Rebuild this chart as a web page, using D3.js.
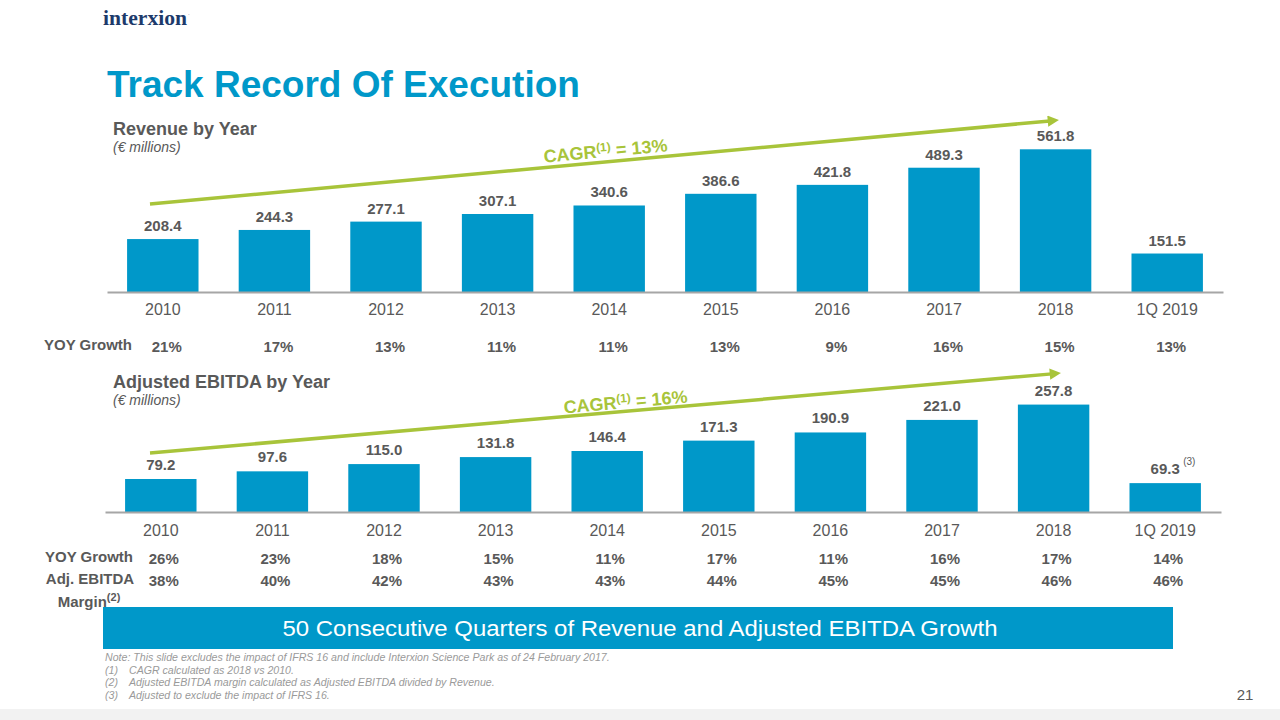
<!DOCTYPE html>
<html><head><meta charset="utf-8">
<script src="https://cdn.jsdelivr.net/npm/d3@7"></script>
<style>
body{margin:0;background:#fff;}
svg{display:block;font-family:"Liberation Sans",Arial,sans-serif;}
</style></head>
<body>
<script>
const categories = ["2010","2011","2012","2013","2014","2015","2016","2017","2018","1Q 2019"];
const revenue = [208.4,244.3,277.1,307.1,340.6,386.6,421.8,489.3,561.8,151.5];
const revenueGrowth = ["21%","17%","13%","11%","11%","13%","9%","16%","15%","13%"];
const ebitda = [79.2,97.6,115.0,131.8,146.4,171.3,190.9,221.0,257.8,69.3];
const ebitdaGrowth = ["26%","23%","18%","15%","11%","17%","11%","16%","17%","14%"];
const ebitdaMargin = ["38%","40%","42%","43%","43%","44%","45%","45%","46%","46%"];
const footnotes = [
  "Note: This slide excludes the impact of IFRS 16 and include Interxion Science Park as of 24 February 2017.",
  "CAGR calculated as 2018 vs 2010.",
  "Adjusted EBITDA margin calculated as Adjusted EBITDA divided by Revenue.",
  "Adjusted to exclude the impact of IFRS 16."
];

const W=1280,H=720;
const BLUE="#0098C9", GREY="#595959", GREEN="#A8C43A", AXIS="#A6A6A6";
const svg=d3.select("body").append("svg").attr("width",W).attr("height",H);

// bottom strip
svg.append("rect").attr("x",0).attr("y",709).attr("width",W).attr("height",11).attr("fill","#F2F2F2");

// logo
svg.append("text").attr("x",103).attr("y",25).attr("font-family","'Liberation Serif','DejaVu Serif',serif")
  .attr("font-weight","bold").attr("font-size",22).attr("fill","#1D3A6B")
  .attr("textLength",84).attr("lengthAdjust","spacingAndGlyphs").text("interxion");
svg.append("text").attr("x",188).attr("y",16).attr("font-size",5).attr("fill","#1D3A6B").text("·");

// title
svg.append("text").attr("x",107).attr("y",97).attr("font-weight","bold").attr("font-size",37)
  .attr("fill",BLUE).text("Track Record Of Execution");

function sectionTitle(y,t){
  svg.append("text").attr("x",113).attr("y",y).attr("font-weight","bold").attr("font-size",18).attr("fill",GREY).text(t);
  svg.append("text").attr("x",113).attr("y",y+17).attr("font-style","italic").attr("font-size",14).attr("fill",GREY).text("(€ millions)");
}
sectionTitle(135,"Revenue by Year");
sectionTitle(388,"Adjusted EBITDA by Year");

function barChart(vals, x0, x1, base, yMax, hMax, padTick){
  const x=d3.scaleBand().domain(categories).range([x0,x1]).paddingInner(0.36).paddingOuter(0.18);
  const y=d3.scaleLinear().domain([0,yMax]).range([base,base-hMax]);
  const g=svg.append("g");
  g.selectAll("rect").data(vals).join("rect")
    .attr("x",(d,i)=>x(categories[i])).attr("width",x.bandwidth())
    .attr("y",d=>y(d)).attr("height",d=>base-y(d)).attr("fill",BLUE);
  const ax=svg.append("g").attr("transform",`translate(0,${base})`)
    .call(d3.axisBottom(x).tickSize(0).tickSizeOuter(0).tickPadding(padTick));
  ax.select(".domain").attr("stroke",AXIS).attr("stroke-width",2);
  ax.selectAll("text").attr("font-size",16).attr("fill",GREY).attr("font-family","'Liberation Sans',Arial,sans-serif");
  return {x,y,g};
}

// revenue
const rev=barChart(revenue,107,1223,292,600,152.4,12);
rev.g.selectAll("text.v").data(revenue).join("text").attr("class","v")
  .attr("x",(d,i)=>rev.x(categories[i])+rev.x.bandwidth()/2).attr("y",d=>rev.y(d)-8)
  .attr("text-anchor","middle").attr("font-weight","bold").attr("font-size",15).attr("fill",GREY)
  .text(d=>d.toFixed(1));

// ebitda
const eb=barChart(ebitda,105,1221,512,300,125,13);
eb.g.selectAll("text.v").data(ebitda).join("text").attr("class","v")
  .attr("x",(d,i)=>eb.x(categories[i])+eb.x.bandwidth()/2).attr("y",d=>eb.y(d)-9)
  .attr("text-anchor","middle").attr("font-weight","bold").attr("font-size",15).attr("fill",GREY)
  .text(d=>d.toFixed(1));
{
  const i=categories.length-1;
  svg.append("text").attr("x",eb.x(categories[i])+eb.x.bandwidth()/2+18).attr("y",eb.y(ebitda[i])-18)
    .attr("font-size",10).attr("fill",GREY).text("(3)");
}

// rows
function row(labels,x,off,y){
  svg.append("g").selectAll("text").data(labels).join("text")
    .attr("x",(d,i)=>x(categories[i])+x.bandwidth()/2+off).attr("y",y)
    .attr("text-anchor","middle").attr("font-weight","bold").attr("font-size",15).attr("fill",GREY).text(d=>d);
}
function rowLabel(x,y,t){
  svg.append("text").attr("x",x).attr("y",y).attr("text-anchor","middle").attr("font-weight","bold")
    .attr("font-size",15).attr("fill",GREY).text(t);
}
rowLabel(88,350,"YOY Growth");
row(revenueGrowth,rev.x,4,352);
rowLabel(89,562,"YOY Growth");
row(ebitdaGrowth,eb.x,3,564);
rowLabel(90,584,"Adj. EBITDA");
row(ebitdaMargin,eb.x,3,586);
{
  const t=svg.append("text").attr("x",89).attr("y",607).attr("text-anchor","middle").attr("font-weight","bold")
    .attr("font-size",15).attr("fill",GREY);
  t.append("tspan").text("Margin");
  t.append("tspan").attr("font-size",11).attr("dy",-6).text("(2)");
}

// CAGR arrows
const defs=svg.append("defs");
defs.append("marker").attr("id","ah").attr("viewBox","0 0 10 10").attr("refX",2).attr("refY",5)
  .attr("markerWidth",4).attr("markerHeight",3.2).attr("orient","auto").attr("markerUnits","strokeWidth")
  .append("path").attr("d","M0,0L10,5L0,10Z").attr("fill",GREEN);
function arrow(x1,y1,x2,y2,label,lx,ly){
  svg.append("line").attr("x1",x1).attr("y1",y1).attr("x2",x2-10).attr("y2",y2+(y1-y2)*10/(x2-x1))
    .attr("stroke",GREEN).attr("stroke-width",3.5).attr("marker-end","url(#ah)");
  const ang=Math.atan2(y2-y1,x2-x1)*180/Math.PI;
  const t=svg.append("text").attr("x",lx).attr("y",ly).attr("text-anchor","middle")
    .attr("transform",`rotate(${ang},${lx},${ly})`).attr("font-weight","bold").attr("font-size",18).attr("fill",GREEN);
  t.append("tspan").text("CAGR");
  t.append("tspan").attr("font-size",12).attr("dy",-6).text("(1)");
  t.append("tspan").attr("dy",6).text(" = "+label);
}
arrow(150,204,1060,120,"13%",606,157);
arrow(150,453,1062,373,"16%",626,408);

// banner
svg.append("rect").attr("x",103).attr("y",607).attr("width",1070).attr("height",42).attr("fill",BLUE);
svg.append("text").attr("x",640).attr("y",636).attr("text-anchor","middle").attr("font-size",22).attr("fill","#fff")
  .attr("textLength",715).attr("lengthAdjust","spacingAndGlyphs")
  .text("50 Consecutive Quarters of Revenue and Adjusted EBITDA Growth");

// footnotes
const fg=svg.append("g").attr("font-style","italic").attr("font-size",10.6).attr("fill","#9A9A9A");
footnotes.forEach((f,i)=>{
  const y=661+i*12.7;
  if(i===0){ fg.append("text").attr("x",105).attr("y",y).text(f); }
  else{
    fg.append("text").attr("x",105).attr("y",y).text(`(${i})`);
    fg.append("text").attr("x",129).attr("y",y).text(f);
  }
});

// page number
svg.append("text").attr("x",1245).attr("y",700).attr("text-anchor","middle").attr("font-size",15).attr("fill",GREY).text("21");
</script>
</body></html>
